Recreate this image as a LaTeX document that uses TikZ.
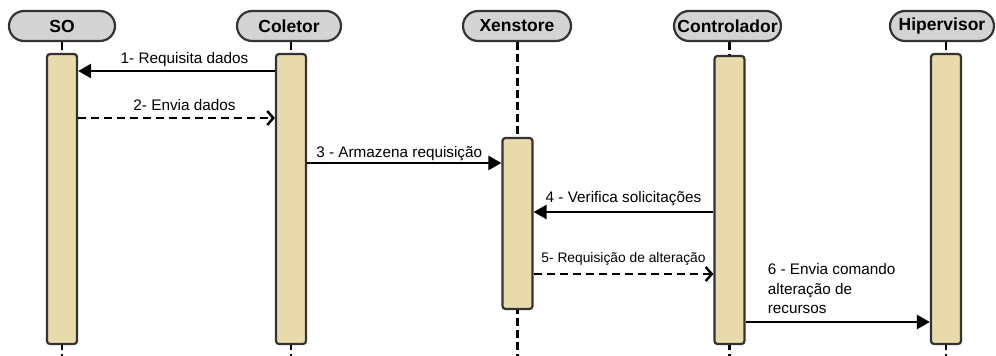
\documentclass[tikz,border=0pt]{standalone}
\usepackage{fontspec}
\setmainfont{Liberation Sans}
\usetikzlibrary{arrows.meta,backgrounds}
\definecolor{actfill}{HTML}{E8DAAA}
\definecolor{hdrfill}{HTML}{D3D3D3}
\definecolor{edgegray}{HTML}{333333}
\begin{document}
\begin{tikzpicture}[x=1pt,y=-1pt]
\tikzstyle{every node}+=[inner sep=0pt]
\tikzstyle{actor}=[draw=edgegray, fill=hdrfill, line width=2.2pt, rounded corners=15pt, minimum width=104pt, minimum height=30pt, font=\bfseries\fontsize{17.5}{20}\selectfont]
\tikzstyle{bar}=[draw=edgegray, fill=actfill, line width=2.2pt, rounded corners=3pt, minimum width=30pt]
\tikzstyle{life}=[line width=2.5pt, dash pattern=on 8pt off 4pt]
\tikzstyle{msg}=[line width=2.5pt, -{Triangle[length=13pt,width=14pt]}]
\tikzstyle{reply}=[line width=2.5pt, dash pattern=on 8pt off 5pt, -{Straight Barb[length=6pt,width=14pt]}]
\tikzstyle{lbl}=[font=\fontsize{15.3}{19.5}\selectfont, anchor=base, yshift=8pt]
\useasboundingbox (0,0) rectangle (996,356);
\node[actor, minimum width=106pt] (so) at (62,26) {SO};
\node[actor] (col) at (289,26) {Coletor};
\node[actor, minimum width=108pt] (xen) at (517,26) {Xenstore};
\node[actor, minimum width=107pt] (con) at (727.5,26) {Controlador};
\node[actor] (hip) at (942,26) {Hipervisor};
\node[bar, minimum height=290pt] (sobar) at (62,199) {};
\node[bar, minimum height=290pt] (colbar) at (291,199) {};
\node[bar, minimum height=171pt] (xenbar) at (517.5,223.5) {};
\node[bar, minimum height=288pt] (conbar) at (729.5,200) {};
\node[bar, minimum height=290pt] (hipbar) at (946,199) {};
\begin{pgfonlayer}{background}
\draw[life] (sobar.north |- so.south) -- (sobar.south |- 0,356);
\draw[life] (colbar.north |- col.south) -- (colbar.south |- 0,356);
\draw[life] (xenbar.north |- xen.south) -- (xenbar.south |- 0,356);
\draw[life] (conbar.north |- con.south) -- (conbar.south |- 0,356);
\draw[life] (hipbar.north |- hip.south) -- (hipbar.south |- 0,356);
\end{pgfonlayer}
\draw[msg] (colbar.west |- 0,71) -- (sobar.east |- 0,71) node[lbl, midway, xshift=8pt] {1- Requisita dados};
\draw[reply] (sobar.east |- 0,118) -- (colbar.west |- 0,118) node[lbl, midway, xshift=8pt] {2- Envia dados};
\draw[msg] (colbar.east |- 0,163) -- (xenbar.west |- 0,163) node[lbl, midway, xshift=-5pt, yshift=-2pt] {3 - Armazena requisição};
\draw[msg] (conbar.west |- 0,212) -- (xenbar.east |- 0,212) node[lbl, midway, yshift=2pt] {4 - Verifica solicitações};
\draw[reply] (xenbar.east |- 0,274) -- (conbar.west |- 0,274) node[lbl, midway, yshift=4pt, font=\fontsize{13.8}{16}\selectfont] {5- Requisição de alteração};
\draw[msg] (conbar.east |- 0,322) -- (hipbar.west |- 0,322) node[lbl, pos=0, anchor=south west, align=left, xshift=21pt, yshift=-1pt] {6 - Envia comando\\alteração de\\recursos};
\end{tikzpicture}
\end{document}
